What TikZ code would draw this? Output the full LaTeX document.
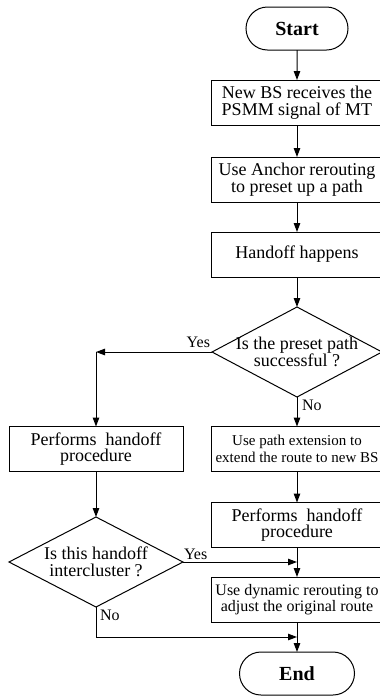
\documentclass[tikz,border=0pt]{standalone}
\usepackage{fontspec}
\setmainfont{Liberation Serif}
\usetikzlibrary{arrows.meta,shapes.geometric,shapes.misc}
\begin{document}
\begin{tikzpicture}[x=1pt,y=-1pt,
  every node/.style={inner sep=0pt, outer sep=0pt, align=center},
  term/.style={draw, rounded rectangle, minimum height=43pt, line width=1pt,
    font=\fontsize{20}{22}\selectfont\bfseries},
  proc/.style={draw, rectangle, minimum width=172pt, minimum height=45pt, line width=1pt,
    font=\fontsize{18}{16.5}\selectfont},
  dec/.style={draw, diamond, minimum height=90pt, line width=1pt},
  dectext/.style={font=\fontsize{18}{16.5}\selectfont},
  lbl/.style={font=\fontsize{16}{18}\selectfont},
  flow/.style={line width=1pt, -{Triangle[length=9pt,width=6.5pt]}},
  seg/.style={line width=1pt}
]
\useasboundingbox (0,0) rectangle (380,697);

% right column
\node[term, minimum width=102pt] (start) at (297,28.5) {Start};
\node[proc] (b1) at (297,102.5) {New BS receives the\\PSMM signal of MT};
\node[proc] (b2) at (297,179.5) {Use Anchor rerouting\\to preset up a path};
\node[proc] (b3) at (297,254.5) {Handoff happens};
\node[dec, minimum width=170pt] (d1) at (297,352) {};
\node[dectext] (d1t) at (d1.center) {Is the preset path\\successful ?};
\node[proc, font=\fontsize{15}{16.5}\selectfont] (pe) at (297,449) {Use path extension to\\extend the route to new BS};
\node[proc] (rh) at (297,525) {Performs\ \ handoff\\procedure};
\node[proc, font=\fontsize{16}{16.5}\selectfont] (dr) at (297,599.5) {Use dynamic rerouting to\\adjust the original route};
\node[term, minimum width=115pt] (stop) at (297,673.5) {End};

% left column
\node[proc, minimum width=174pt] (lb) at (96,449) {Performs\ \ handoff\\procedure};
\node[dec, minimum width=174pt] (d2) at (96,562) {};
\node[dectext] (d2t) at (d2.center) {Is this handoff\\intercluster ?};

% junction points
\coordinate (yl) at (96,352);
\coordinate (ym) at (297,562);
\coordinate (nl) at (96,637);
\coordinate (nm) at (297,637);

% connectors
\draw[flow] (start) -- (b1);
\draw[flow] (b1) -- (b2);
\draw[flow] (b2) -- (b3);
\draw[flow] (b3) -- (d1);
\draw[flow] (d1.west) -- (yl);
\draw[flow] (yl) -- (lb);
\draw[flow] (d1) -- (pe);
\draw[flow] (pe) -- (rh);
\draw[flow] (rh) -- (dr);
\draw[flow] (lb) -- (d2);
\draw[flow] (d2.east) -- (ym);
\draw[seg] (d2.south) -- (nl);
\draw[flow] (nl) -- (nm);
\draw[flow] (dr) -- (stop);

% branch labels
\node[lbl, anchor=base east] (y1) at (210,347) {Yes};
\node[lbl, anchor=base west] (n1) at (302,410) {No};
\node[lbl, anchor=base west] (y2) at (184,559) {Yes};
\node[lbl, anchor=base west] (n2) at (100,620) {No};
\end{tikzpicture}
\end{document}
